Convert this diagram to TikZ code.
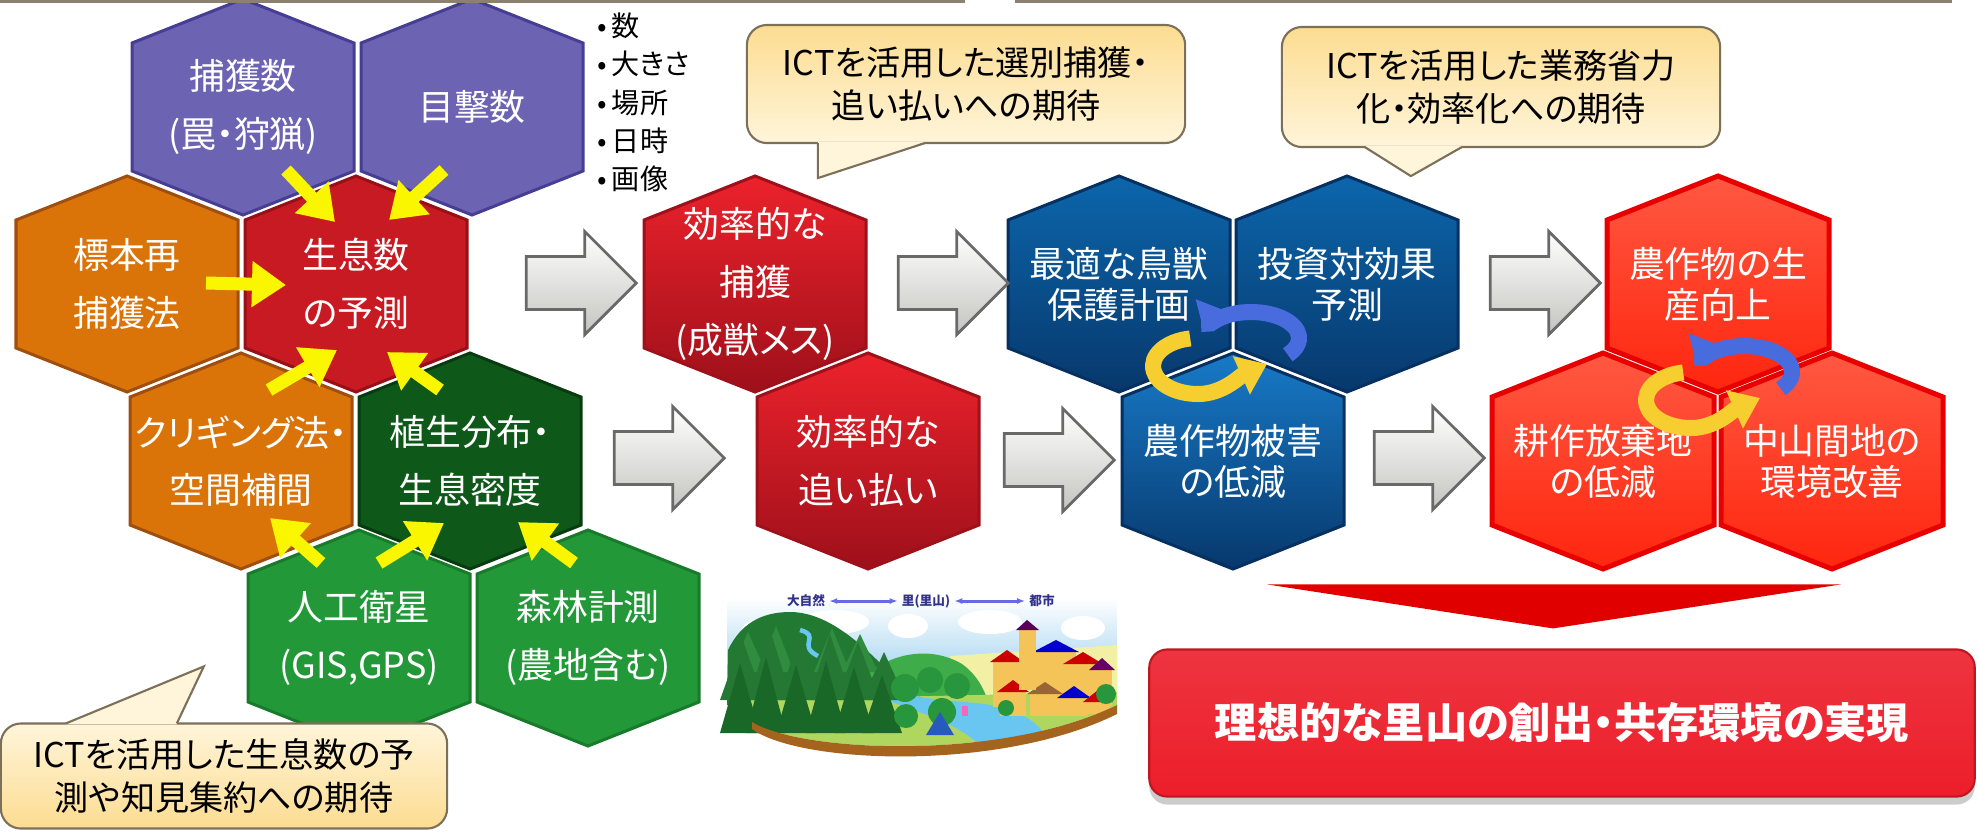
\documentclass[tikz,border=0pt]{standalone}
\usepackage{fontspec}
\setmainfont{Noto Sans CJK JP}[RawFeature={+palt}]
\usepackage{tikz}
\usetikzlibrary{positioning, calc}
\usetikzlibrary{arrows.meta}
\usetikzlibrary{shapes,arrows,shadows}

\definecolor{hexpurple}{RGB}{109,99,179}
\definecolor{hexpurpleline}{RGB}{70,62,148}
\definecolor{hexorange}{RGB}{218,115,8}
\definecolor{hexorangeline}{RGB}{158,78,14}
\definecolor{hexred}{RGB}{200,26,34}
\definecolor{hexredline}{RGB}{150,16,22}
\definecolor{hexdkgreen}{RGB}{14,88,26}
\definecolor{hexdkgreenline}{RGB}{8,60,16}
\definecolor{hexgreen}{RGB}{34,152,56}
\definecolor{hexgreenline}{RGB}{24,122,42}
\definecolor{catchtop}{RGB}{236,34,44}
\definecolor{catchbot}{RGB}{158,16,26}
\definecolor{bluetop}{RGB}{12,102,172}
\definecolor{bluebot}{RGB}{7,56,108}
\definecolor{bluelow}{RGB}{24,122,200}
\definecolor{blueline}{RGB}{6,48,96}
\definecolor{goodtop}{RGB}{255,88,66}
\definecolor{goodbot}{RGB}{255,38,14}
\definecolor{goodline}{RGB}{232,0,0}
\definecolor{arrowyellow}{RGB}{250,246,0}
\definecolor{bubtop}{RGB}{252,220,145}
\definecolor{bubbot}{RGB}{255,245,218}
\definecolor{bubline}{RGB}{125,112,90}
\definecolor{arrline}{RGB}{105,105,105}
\definecolor{arrlow}{RGB}{196,196,192}
\definecolor{goalred}{RGB}{236,30,42}
\definecolor{wedgered}{RGB}{225,0,0}
\definecolor{cycblue}{RGB}{72,108,222}
\definecolor{cycyellow}{RGB}{246,206,48}
\definecolor{toprule}{RGB}{140,128,112}
% scene colours
\definecolor{skyblue}{RGB}{150,205,238}
\definecolor{fieldyellow}{RGB}{242,240,165}
\definecolor{mountgreen}{RGB}{34,122,50}
\definecolor{hillgreen}{RGB}{62,172,72}
\definecolor{meadow}{RGB}{175,215,95}
\definecolor{riverblue}{RGB}{105,198,240}
\definecolor{pinetop}{RGB}{48,140,62}
\definecolor{pineback}{RGB}{36,120,52}
\definecolor{pinefront}{RGB}{26,104,40}
\definecolor{roundtree}{RGB}{40,150,60}
\definecolor{wallyellow}{RGB}{244,196,88}
\definecolor{groundbrown}{RGB}{165,100,30}
\definecolor{tentblue}{RGB}{40,90,190}
\definecolor{scenetext}{RGB}{50,50,140}
\definecolor{scenearrow}{RGB}{105,105,230}

% one honeycomb cell: name, x, y, cell style, text style, text
\newcommand{\hexcell}[6]{%
	\path[#4] (#2,#3) ++(0,-108) -- ++(111,44) -- ++(0,128) -- ++(-111,44) -- ++(-111,-44) -- ++(0,-128) -- cycle;
	\node[#5] (#1) at (#2,#3) {#6};
}

% blue and yellow turning arrows round a point
\newcommand{\cyclepair}[2]{%
	\draw[cyc-blue] ({#1+25},{#2-15}) ++(40:48 and 26) arc[start angle=40, end angle=-168, x radius=48, y radius=26];
	\draw[cyc-yellow] ({#1-28},{#2+13}) ++(-100:45 and 28) arc[start angle=-100, end angle=-270, x radius=45, y radius=28]
		.. controls ({#1-3},{#2+41}) and ({#1+14},{#2+23}) .. ({#1+41},{#2+11});
}

\begin{document}
\begin{tikzpicture}[x=0.01cm, y=-0.01cm]
	\def \rowoneht{107}
	\def \rowtwoht{284}
	\def \rowthreeht{461}
	\def \rowfourht{638}
	\tikzstyle{purple-hex}=[fill=hexpurple, draw=hexpurpleline, line width=0.03cm]
	\tikzstyle{orange-hex}=[fill=hexorange, draw=hexorangeline, line width=0.03cm]
	\tikzstyle{red-hex}=[fill=hexred, draw=hexredline, line width=0.03cm]
	\tikzstyle{dkgreen-hex}=[fill=hexdkgreen, draw=hexdkgreenline, line width=0.03cm]
	\tikzstyle{green-hex}=[fill=hexgreen, draw=hexgreenline, line width=0.03cm]
	\tikzstyle{catch-hex}=[top color=catchtop, bottom color=catchbot, draw=catchbot, line width=0.03cm]
	\tikzstyle{blue-hex}=[top color=bluetop, bottom color=bluebot, draw=blueline, line width=0.03cm]
	\tikzstyle{bluelow-hex}=[top color=bluelow, bottom color=bluebot, draw=blueline, line width=0.03cm]
	\tikzstyle{good-hex}=[top color=goodtop, bottom color=goodbot, draw=goodline, line width=0.05cm]
	\tikzstyle{hex-txt}=[text=white, align=center, inner sep=0pt, font=\fontsize{10.2}{16.4}\selectfont]
	\tikzstyle{hex-tight}=[text=white, align=center, inner sep=0pt, font=\fontsize{10.2}{11.7}\selectfont]
	\tikzstyle{yel-arr}=[draw=arrowyellow, line width=0.13cm, -{Triangle[length=0.34cm, width=0.44cm]}]
	\tikzstyle{gray-arr}=[single arrow, draw=arrline, line width=0.8pt, top color=white, bottom color=arrlow, minimum height=1.1cm, text height=0.25cm, text depth=0.25cm, text width=0pt, single arrow head extend=0.25cm, inner sep=0pt]
	\tikzstyle{ict-bubble}=[rectangle, rounded corners=0.2cm, draw=bubline, line width=0.6pt, top color=bubtop, bottom color=bubbot, align=center, font=\fontsize{9.7}{12}\selectfont]
	\tikzstyle{cyc-blue}=[draw=cycblue, line width=0.16cm, -{Triangle[length=0.28cm, width=0.38cm]}]
	\tikzstyle{cyc-yellow}=[draw=cycyellow, line width=0.16cm, -{Triangle[length=0.28cm, width=0.4cm]}]
	\tikzstyle{scene-lbl}=[text=scenetext, inner sep=1pt, font=\fontsize{3.6}{4}\selectfont\bfseries]
	\tikzstyle{scene-arr}=[draw=scenearrow, line width=0.03cm, {Latex[length=0.08cm]}-{Latex[length=0.08cm]}]
	\useasboundingbox (0,0) rectangle (1977,836);

	% population estimate
	\hexcell{hHokaku}{243}{\rowoneht}{purple-hex}{hex-txt}{捕獲数\\(罠・狩猟)}
	\hexcell{hMokugeki}{472}{\rowoneht}{purple-hex}{hex-txt}{目撃数}
	\hexcell{hHyohon}{127}{\rowtwoht}{orange-hex}{hex-txt}{標本再\\捕獲法}
	\hexcell{hSeisoku}{356}{\rowtwoht}{red-hex}{hex-txt}{生息数\\の予測}
	\hexcell{hKriging}{241}{\rowthreeht}{orange-hex}{hex-txt}{クリギング法・\\空間補間}
	\hexcell{hShokusei}{470}{\rowthreeht}{dkgreen-hex}{hex-txt}{植生分布・\\生息密度}
	\hexcell{hEisei}{359}{\rowfourht}{green-hex}{hex-txt}{人工衛星\\(GIS,GPS)}
	\hexcell{hShinrin}{588}{\rowfourht}{green-hex}{hex-txt}{森林計測\\(農地含む)}

	\node[anchor=north west, align=left, inner sep=0pt, font=\fontsize{8}{10.9}\selectfont] (attrList) at (597,12) {•\,数\\•\,大きさ\\•\,場所\\•\,日時\\•\,画像};

	% capture and driving away
	\hexcell{hHokakuEff}{755}{\rowtwoht}{catch-hex}{hex-txt}{効率的な\\捕獲\\(成獣メス)}
	\hexcell{hOiharai}{868}{\rowthreeht}{catch-hex}{hex-txt}{効率的な\\追い払い}

	% planning
	\hexcell{hHogo}{1119}{\rowtwoht}{blue-hex}{hex-tight}{最適な鳥獣\\保護計画}
	\hexcell{hToushi}{1347}{\rowtwoht}{blue-hex}{hex-tight}{投資対効果\\予測}
	\hexcell{hHigai}{1233}{\rowthreeht}{bluelow-hex}{hex-tight}{農作物被害\\の低減}

	% outcome
	\hexcell{hSeisan}{1718}{\rowtwoht}{good-hex}{hex-tight}{農作物の生\\産向上}
	\hexcell{hKousaku}{1603}{\rowthreeht}{good-hex}{hex-tight}{耕作放棄地\\の低減}
	\hexcell{hChusan}{1832}{\rowthreeht}{good-hex}{hex-tight}{中山間地の\\環境改善}

	\path ([shift={(43,63)}]hHokaku.center)		edge[yel-arr]	([shift={(-21,-62)}]hSeisoku.center)
		([shift={(-28,63)}]hMokugeki.center)	edge[yel-arr]	([shift={(33,-64)}]hSeisoku.center)
		([shift={(79,-1)}]hHyohon.center)		edge[yel-arr]	([shift={(-70,1)}]hSeisoku.center)
		([shift={(28,-71)}]hKriging.center)	edge[yel-arr]	([shift={(-19,66)}]hSeisoku.center)
		([shift={(-30,-71)}]hShokusei.center)	edge[yel-arr]	([shift={(31,68)}]hSeisoku.center)
		([shift={(-38,-75)}]hEisei.center)		edge[yel-arr]	([shift={(29,57)}]hKriging.center)
		([shift={(20,-75)}]hEisei.center)		edge[yel-arr]	([shift={(-26,62)}]hShokusei.center)
		([shift={(-14,-75)}]hShinrin.center)	edge[yel-arr]	([shift={(48,61)}]hShokusei.center);

	\cyclepair{1226}{353}
	\cyclepair{1719}{387}

	% block arrows between the stages
	\node[gray-arr] (arrA) at (568,283) {};
	\node[gray-arr] (arrB) at (940,283) {};
	\node[gray-arr] (arrC) at (1532,283) {};
	\node[gray-arr] (arrD) at (656,458) {};
	\node[gray-arr] (arrE) at (1046,460) {};
	\node[gray-arr] (arrF) at (1416,458) {};

	% callouts
	\node[ict-bubble, minimum width=4.38cm, minimum height=1.18cm] (bubSenbetsu) at (966,84) {ICTを活用した選別捕獲・\\追い払いへの期待};
	\fill[bubbot] ($(bubSenbetsu.south west)+(72,-2)$) -- ($(bubSenbetsu.south west)+(72,34)$) -- ($(bubSenbetsu.south west)+(179,-2)$) -- cycle;
	\draw[bubline, line width=0.6pt] ($(bubSenbetsu.south west)+(72,-1)$) -- ($(bubSenbetsu.south west)+(72,34)$) -- ($(bubSenbetsu.south west)+(179,-1)$);

	\node[ict-bubble, minimum width=4.38cm, minimum height=1.2cm] (bubGyomu) at (1501,87) {ICTを活用した業務省力\\化・効率化への期待};
	\fill[bubbot] ($(bubGyomu.south west)+(84,-2)$) -- ($(bubGyomu.south west)+(130,28)$) -- ($(bubGyomu.south west)+(181,-2)$) -- cycle;
	\draw[bubline, line width=0.6pt] ($(bubGyomu.south west)+(84,-1)$) -- ($(bubGyomu.south west)+(130,28)$) -- ($(bubGyomu.south west)+(181,-1)$);

	\node[ict-bubble, top color=bubbot, bottom color=bubtop, minimum width=4.46cm, minimum height=1.05cm] (bubSeisoku) at (224,776) {ICTを活用した生息数の予\\測や知見集約への期待};
	\fill[bubbot] ($(bubSeisoku.north west)+(66,2)$) -- ($(bubSeisoku.north west)+(204,-56)$) -- ($(bubSeisoku.north west)+(177,2)$) -- cycle;
	\draw[bubline, line width=0.6pt] ($(bubSeisoku.north west)+(66,1)$) -- ($(bubSeisoku.north west)+(204,-56)$) -- ($(bubSeisoku.north west)+(177,1)$);

	% goal
	\node[rectangle, rounded corners=0.18cm, minimum width=8.25cm, minimum height=1.47cm, top color=goalred!90!white, bottom color=goalred, draw=goalred!80!black, line width=0.6pt, text=white, font=\fontsize{12}{12}\selectfont\bfseries, drop shadow={shadow xshift=0pt, shadow yshift=-0.08cm, opacity=0.4}] (goal) at (1562,723) {理想的な里山の創出・共存環境の実現};
	\fill[wedgered] ($(goal.north)+(-295,-64)$) -- ($(goal.north)+(279,-64)$) -- ($(goal.north)+(-9,-20)$) -- cycle;

	% satoyama scene
	\shade[top color=white, bottom color=skyblue] (727,598) rectangle (1117,690);
	\foreach \cx/\cy/\rx in {768/630/26, 835/622/34, 908/626/20, 990/622/32, 1083/628/22}
		\fill[white] (\cx,\cy) ellipse [x radius=\rx, y radius=12];
	\fill[fieldyellow] (950,656) -- (1117,645) -- (1117,706) -- (950,706) -- cycle;
	\fill[mountgreen] (727,705) -- (728,650) .. controls (740,625) and (760,612) .. (790,612) .. controls (820,612) and (850,632) .. (885,668) -- (885,705) -- cycle;
	\draw[riverblue, line width=0.045cm] (800,630) .. controls (822,636) and (796,645) .. (818,656);
	\fill[hillgreen] (845,700) .. controls (872,655) and (925,642) .. (962,664) .. controls (976,674) and (984,688) .. (988,702) -- cycle;
	\fill[meadow] (745,700) -- (1117,692) -- (1117,705) .. controls (1000,762) and (800,752) .. (752,722) -- cycle;
	\fill[riverblue] (878,682) .. controls (905,700) and (950,700) .. (975,703) .. controls (1010,706) and (1035,718) .. (1046,736) -- (978,744) .. controls (960,725) and (920,712) .. (880,698) -- cycle;
	\foreach \tx/\th in {748/40, 776/46, 832/44, 860/38}
		\fill[pinetop] ({\tx-18},672) -- (\tx,{672-\th}) -- ({\tx+18},672) -- cycle;
	\foreach \tx/\th in {742/62, 770/70, 800/64, 830/66, 858/58, 884/48}
		\fill[pineback] ({\tx-22},700) -- (\tx,{700-\th}) -- ({\tx+22},700) -- cycle;
	\foreach \tx/\th in {740/70, 766/76, 796/68, 826/72, 854/66, 882/58}
		\fill[pinefront] ({\tx-20},733) -- (\tx,{733-\th}) -- ({\tx+20},733) -- cycle;
	\foreach \tx/\ty/\tr in {905/688/14, 930/680/13, 957/686/13, 942/712/14, 906/716/12}
		\fill[roundtree] (\tx,\ty) circle [radius=\tr];
	\fill[tentblue] (926,735) -- (940,712) -- (954,735) -- cycle;
	\fill[magenta!60] (962,706) rectangle (968,716);
	\foreach \bx/\by/\bw/\bh/\rc in {993/662/28/45/red, 1036/652/40/50/blue, 1066/664/34/40/red, 1092/670/20/36/violet, 1000/692/26/24/red, 1030/694/30/22/brown, 1060/698/28/18/blue, 1086/702/24/12/red}{
		\fill[wallyellow] (\bx,\by) rectangle ++(\bw,\bh);
		\fill[\rc!80!black] ({\bx-3},\by) -- ++({\bw/2+3},-12) -- ++({\bw/2+3},12) -- cycle;
	}
	\fill[wallyellow] (1019,628) rectangle (1036,690);
	\fill[violet!70!black] (1016,630) -- (1027,620) -- (1039,630) -- cycle;
	\fill[roundtree] (1006,708) circle [radius=8] (1106,694) circle [radius=10];
	\fill[groundbrown] (752,722) .. controls (800,752) and (1000,762) .. (1117,705) -- (1117,714) .. controls (1000,772) and (800,764) .. (752,729) -- cycle;
	\node[scene-lbl] (lblNature) at (806,601) {大自然};
	\node[scene-lbl] (lblSato) at (926,601) {里(里山)};
	\node[scene-lbl] (lblCity) at (1042,601) {都市};
	\path (lblNature) edge[scene-arr] (lblSato)
		(lblSato) edge[scene-arr] (lblCity);

	% rule along the top
	\draw[toprule, line width=0.03cm] (0,1) -- (965,1);
	\draw[toprule, line width=0.03cm] (1015,1) -- (1952,1);
\end{tikzpicture}
\end{document}
